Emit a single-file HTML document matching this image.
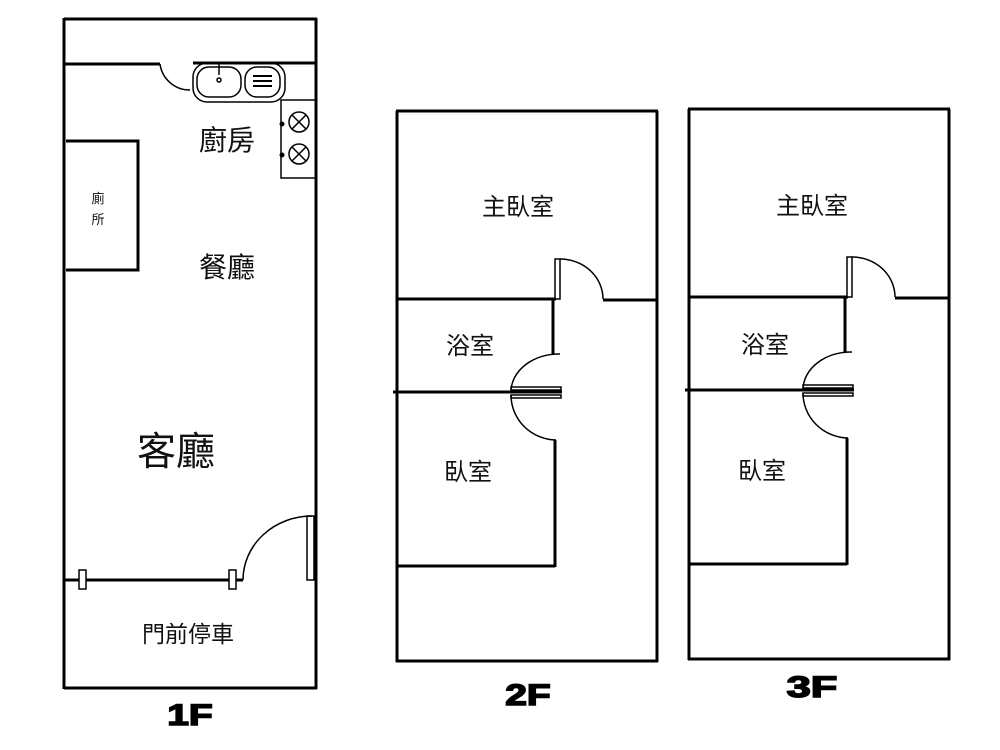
<!DOCTYPE html>
<html><head><meta charset="utf-8"><style>
html,body{margin:0;padding:0;background:#fff;width:1000px;height:750px;overflow:hidden}
svg{display:block}
text{font-family:"Liberation Sans","Noto Sans CJK TC",sans-serif;fill:#111}
.fl{font-family:"Liberation Sans",sans-serif;font-weight:bold;font-size:30px;fill:#000;stroke:#000;stroke-width:1.5}
</style></head><body>
<svg width="1000" height="750" viewBox="0 0 1000 750" fill="none" stroke="#000">
<!-- 1F -->
<g stroke-width="3">
<line x1="64" y1="18" x2="64" y2="689"/>
<line x1="64" y1="19" x2="317" y2="19"/>
<line x1="316" y1="18" x2="316" y2="689"/>
<line x1="64" y1="688" x2="317" y2="688"/>
<line x1="64" y1="64" x2="160" y2="64"/>
<line x1="193" y1="63" x2="316" y2="63"/>
<polyline points="66,141 138,141 138,270 66,270"/>
<line x1="64" y1="580" x2="243" y2="580"/>
</g>
<g stroke-width="1.5">
<path d="M160 64 A30 30 0 0 0 190 90"/>
<rect x="193" y="63" width="92" height="39" rx="14"/>
<rect x="197" y="67" width="44" height="30" rx="12"/>
<rect x="245" y="67" width="35" height="30" rx="12"/>
<line x1="219" y1="64" x2="219" y2="75"/>
<circle cx="219" cy="80" r="2"/>
<line x1="253" y1="76" x2="272" y2="76" stroke-width="2"/>
<line x1="253" y1="81" x2="272" y2="81" stroke-width="2"/>
<line x1="253" y1="86" x2="272" y2="86" stroke-width="2"/>
<rect x="281" y="100" width="35" height="78"/>
<circle cx="299" cy="122" r="10"/><path d="M292 115 L306 129 M306 115 L292 129"/>
<circle cx="299" cy="154" r="10"/><path d="M292 147 L306 161 M306 147 L292 161"/>
<path d="M243 580 A69 64 0 0 1 312 516"/>
<rect x="307" y="516" width="7" height="64"/>
<rect x="79" y="570" width="7" height="19" fill="#fff"/>
<rect x="229" y="570" width="7" height="19" fill="#fff"/>
</g>
<circle cx="282" cy="124" r="2" fill="#000"/>
<circle cx="282" cy="155" r="2" fill="#000"/>
<!-- 2F -->
<g id="fl2">
<g stroke-width="3">
<line x1="397" y1="111" x2="397" y2="662"/>
<line x1="396" y1="111" x2="658" y2="111"/>
<line x1="657" y1="111" x2="657" y2="662"/>
<line x1="396" y1="661" x2="658" y2="661"/>
<line x1="397" y1="299" x2="556" y2="299"/>
<line x1="603" y1="300" x2="657" y2="300"/>
<line x1="553" y1="299" x2="553" y2="355"/>
<line x1="393" y1="392" x2="562" y2="392"/>
<line x1="555" y1="440" x2="555" y2="567"/>
<line x1="397" y1="566" x2="555" y2="566"/>
</g>
<g stroke-width="1.5">
<rect x="555" y="259" width="5" height="40" fill="#fff"/>
<path d="M560 259 A43 40 0 0 1 603 299"/>
<path d="M560 354 A48 38 0 0 0 511 391"/>
<path d="M511 395 A46 45 0 0 0 556 440"/>
<rect x="511" y="387" width="50" height="3"/>
<rect x="511" y="395" width="50" height="3"/>
</g>
</g>
<use href="#fl2" transform="translate(292,-2)"/>
<!-- labels -->
<g stroke="none">
<text x="227" y="150" font-size="28" text-anchor="middle">廚房</text>
<text x="98" y="203" font-size="13" text-anchor="middle">廁</text>
<text x="98" y="224" font-size="13" text-anchor="middle">所</text>
<text x="227" y="277" font-size="28" text-anchor="middle">餐廳</text>
<text x="176" y="465" font-size="39" text-anchor="middle">客廳</text>
<text x="188" y="642" font-size="23" text-anchor="middle">門前停車</text>
<text x="518" y="215" font-size="24" text-anchor="middle">主臥室</text>
<text x="470" y="354" font-size="24" text-anchor="middle">浴室</text>
<text x="468" y="480" font-size="24" text-anchor="middle">臥室</text>
<text x="812" y="214" font-size="24" text-anchor="middle">主臥室</text>
<text x="765" y="353" font-size="24" text-anchor="middle">浴室</text>
<text x="762" y="479" font-size="24" text-anchor="middle">臥室</text>
</g>
<text class="fl" x="190" y="725" text-anchor="middle" transform="translate(190,0) scale(1.3,1) translate(-190,0)">1F</text>
<text class="fl" x="528" y="705" text-anchor="middle" transform="translate(528,0) scale(1.3,1) translate(-528,0)">2F</text>
<text class="fl" x="812" y="697" text-anchor="middle" transform="translate(812,0) scale(1.45,1) translate(-812,0)">3F</text>
</svg>
</body></html>
